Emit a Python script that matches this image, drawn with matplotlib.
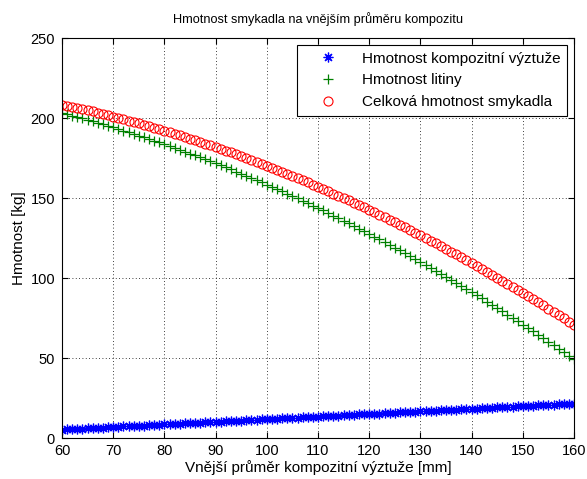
import matplotlib
matplotlib.use("Agg")
import matplotlib.pyplot as plt
import numpy as np

plt.rcParams['font.family'] = ['Liberation Sans', 'DejaVu Sans']
plt.rcParams['font.size'] = 9

# vnejsi prumer kompozitu [mm]
prumer = np.arange(60, 161)

# hmotnost kompozitni vyztuze [kg]
m_kompozit = [
    5.2, 5.4, 5.5, 5.7, 5.9, 6.0, 6.2, 6.3, 6.5, 6.7,
    6.8, 7.0, 7.2, 7.3, 7.5, 7.6, 7.8, 8.0, 8.1, 8.3,
    8.5, 8.6, 8.8, 8.9, 9.1, 9.3, 9.4, 9.6, 9.8, 9.9,
    10.1, 10.3, 10.4, 10.6, 10.7, 10.9, 11.1, 11.2, 11.4, 11.6,
    11.7, 11.9, 12.0, 12.2, 12.4, 12.5, 12.7, 12.9, 13.0, 13.2,
    13.4, 13.5, 13.7, 13.8, 14.0, 14.2, 14.3, 14.5, 14.7, 14.8,
    15.0, 15.1, 15.3, 15.5, 15.6, 15.8, 16.0, 16.1, 16.3, 16.4,
    16.6, 16.8, 16.9, 17.1, 17.3, 17.4, 17.6, 17.8, 17.9, 18.1,
    18.2, 18.4, 18.6, 18.7, 18.9, 19.1, 19.2, 19.4, 19.5, 19.7,
    19.9, 20.0, 20.2, 20.4, 20.5, 20.7, 20.8, 21.0, 21.2, 21.3,
    21.5,
]

# hmotnost litiny [kg]
m_litina = [
    203.2, 202.4, 201.5, 200.6, 199.7, 198.8, 197.9, 197.0, 196.0, 195.1,
    194.1, 193.1, 192.1, 191.1, 190.1, 189.0, 188.0, 186.9, 185.8, 184.7,
    183.6, 182.5, 181.3, 180.2, 179.0, 177.8, 176.6, 175.4, 174.2, 173.0,
    171.7, 170.4, 169.2, 167.9, 166.5, 165.2, 163.9, 162.5, 161.2, 159.8,
    158.4, 157.0, 155.6, 154.1, 152.7, 151.2, 149.7, 148.3, 146.8, 145.2,
    143.7, 142.2, 140.6, 139.0, 137.4, 135.8, 134.2, 132.6, 130.9, 129.3,
    127.6, 125.9, 124.2, 122.5, 120.8, 119.0, 117.3, 115.5, 113.7, 111.9,
    110.1, 108.3, 106.4, 104.6, 102.7, 100.8, 98.9, 97.0, 95.1, 93.2,
    91.2, 89.2, 87.3, 85.3, 83.2, 81.2, 79.2, 77.1, 75.1, 73.0,
    70.9, 68.8, 66.7, 64.5, 62.4, 60.2, 58.0, 55.9, 53.7, 51.4,
    49.2,
]

# celkova hmotnost smykadla [kg]
m_celkem = [
    208.4, 207.8, 207.0, 206.3, 205.6, 204.8, 204.1, 203.3, 202.5, 201.8,
    200.9, 200.1, 199.3, 198.4, 197.6, 196.6, 195.8, 194.9, 193.9, 193.0,
    192.1, 191.1, 190.1, 189.1, 188.1, 187.1, 186.0, 185.0, 184.0, 182.9,
    181.8, 180.7, 179.6, 178.5, 177.2, 176.1, 175.0, 173.7, 172.6, 171.4,
    170.1, 168.9, 167.6, 166.3, 165.1, 163.7, 162.4, 161.2, 159.8, 158.4,
    157.1, 155.7, 154.3, 152.8, 151.4, 150.0, 148.5, 147.1, 145.6, 144.1,
    142.6, 141.0, 139.5, 138.0, 136.4, 134.8, 133.3, 131.6, 130.0, 128.3,
    126.7, 125.1, 123.3, 121.7, 120.0, 118.2, 116.5, 114.8, 113.0, 111.3,
    109.4, 107.6, 105.9, 104.0, 102.1, 100.3, 98.4, 96.5, 94.6, 92.7,
    90.8, 88.8, 86.9, 84.9, 82.9, 80.9, 78.8, 76.9, 74.9, 72.7,
    70.7,
]

fig = plt.figure(figsize=(5.87, 4.79), dpi=100)
ax = fig.add_axes([62/587, 41/479, 512/587, 400/479])

# asterisk: 8 arms, like + and x together
ax.plot(prumer, m_kompozit, linestyle='none', marker=(8, 2, 0), color='blue',
        markersize=7, markeredgewidth=0.9, label='Hmotnost kompozitní výztuže')
ax.plot(prumer, m_litina, linestyle='none', marker='+', color='#008000',
        markersize=7, markeredgewidth=0.9, label='Hmotnost litiny')
ax.plot(prumer, m_celkem, linestyle='none', marker='o', color='red',
        markerfacecolor='none', markersize=6.5, markeredgewidth=0.8,
        label='Celková hmotnost smykadla')

ax.set_xlim(60, 160)
ax.set_ylim(0, 250)
ax.set_xticks(np.arange(60, 161, 10))
ax.set_yticks(np.arange(0, 251, 50))
ax.grid(True, color='black', linestyle=(0, (1, 3)), linewidth=0.6)
ax.tick_params(direction='in', top=True, right=True, length=4, labelsize=10.5)
ax.tick_params(axis='x', pad=4)
ax.tick_params(axis='y', pad=5)
for s in ax.spines.values():
    s.set_linewidth(0.8)

ax.set_title('Hmotnost smykadla na vnějším průměru kompozitu', fontsize=9.2, pad=11)
ax.set_xlabel('Vnější průměr kompozitní výztuže [mm]', fontsize=11, labelpad=2)
ax.set_ylabel('Hmotnost [kg]', fontsize=11, labelpad=3)

leg = ax.legend(loc='upper right', fancybox=False, edgecolor='black',
                framealpha=1, fontsize=11, borderaxespad=0.45,
                handlelength=3.2, handletextpad=0.6, borderpad=0.45,
                labelspacing=0.5)
leg.get_frame().set_linewidth(0.8)

fig.savefig('out.png', dpi=100)
